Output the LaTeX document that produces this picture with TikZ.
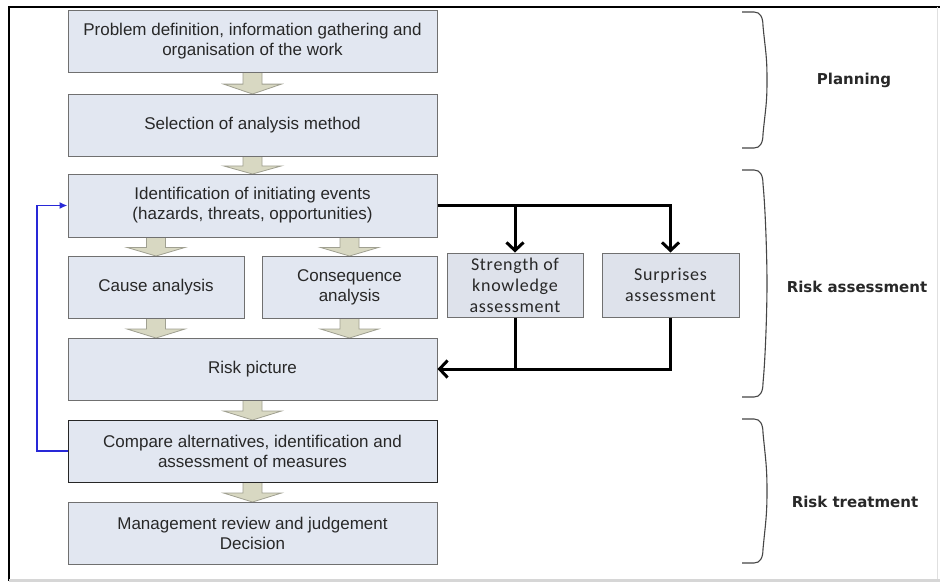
\documentclass[tikz,border=0pt]{standalone}
\usepackage{fontspec}
\setmainfont{Liberation Sans}
\newfontfamily\phasefont{DejaVu Sans}
\newfontfamily\calfont[LetterSpace=4]{Carlito}
\usetikzlibrary{arrows.meta}

\definecolor{boxfill}{RGB}{226,231,241}
\definecolor{boxedge}{RGB}{112,112,112}
\definecolor{sidefill}{RGB}{222,226,235}
\definecolor{blkfill}{RGB}{216,216,194}
\definecolor{blkedge}{RGB}{160,160,145}
\definecolor{txt}{RGB}{40,40,40}
\definecolor{loopblue}{RGB}{40,40,215}
\definecolor{bracegray}{RGB}{70,70,70}

\tikzset{
  stage/.style={draw=boxedge, fill=boxfill, line width=1pt,
    minimum width=369pt, minimum height=62pt, inner sep=0pt,
    align=center, text=txt, font=\fontsize{17}{20}\selectfont},
  halfstage/.style={stage, minimum width=176pt},
  sidebox/.style={draw=boxedge, fill=sidefill, line width=1pt,
    minimum width=136pt, minimum height=64pt, inner sep=0pt,
    align=center, text=txt, font=\calfont\fontsize{18}{21}\selectfont},
  phase/.style={text=txt, font=\phasefont\bfseries\fontsize{15}{18}\selectfont},
  flow/.style={line width=3pt, -{Straight Barb[length=8pt,width=17pt]}},
  flowplain/.style={line width=3pt},
  loop/.style={draw=loopblue, line width=1.6pt, -{Latex[length=8pt,width=7pt]}},
  bracestyle/.style={draw=bracegray, line width=1.1pt},
  blk/.pic={
    \path[fill=blkfill, draw=blkedge, line width=0.8pt]
      (-9.5,0) -- (-9.5,0.55*#1) -- (-29,0.55*#1) -- (0,#1)
      -- (29,0.55*#1) -- (9.5,0.55*#1) -- (9.5,0) -- cycle;
  }
}

\begin{document}
\begin{tikzpicture}[x=1pt,y=-1pt]
  \useasboundingbox (0,0) rectangle (940,587);
  \fill[white] (0,0) rectangle (940,587);

  % frame around the figure
  \draw[line width=2pt, black] (940,6.5) -- (8.5,6.5) -- (8.5,581);
  \draw[line width=3pt, black!16] (8.5,580) -- (940,580);
  \draw[line width=1pt, black!12] (937,6.5) -- (937,579);

  % block arrows between the stages
  \pic at (252.5,72) {blk=22};
  \pic at (252.5,156) {blk=18};
  \pic at (156,237) {blk=19};
  \pic at (349.5,237) {blk=19};
  \pic at (156,318) {blk=20};
  \pic at (349.5,318) {blk=20};
  \pic at (252.5,400) {blk=20};
  \pic at (252.5,482) {blk=20};

  % stages
  \node[stage] (define) at (252.5,41) {Problem definition, information gathering and\\organisation of the work};
  \node[stage] (method) at (252.5,125) {Selection of analysis method};
  \node[stage, minimum height=63pt] (events) at (252.5,205.5) {Identification of initiating events\\(hazards, threats, opportunities)};
  \node[halfstage] (cause) at (156,287) {Cause analysis};
  \node[halfstage, minimum width=175pt] (conseq) at (349.5,287) {Consequence\\analysis};
  \node[stage] (risk) at (252.5,369) {Risk picture};
  \node[stage, draw=black!85] (compare) at (252.5,451) {Compare alternatives, identification and\\assessment of measures};
  \node[stage] (review) at (252.5,533) {Management review and judgement\\Decision};

  \node[sidebox] (strength) at (515,285) {Strength of\\knowledge\\assessment};
  \node[sidebox, minimum width=137pt] (surprise) at (670.5,285) {Surprises\\assessment};

  % connectors to and from the side assessments
  \draw[flow] (events.east) -| (surprise.north);
  \draw[flow] (strength.north |- events.east) -- (strength.north);
  \draw[flowplain] (strength.south) -- (strength.south |- risk.east);
  \draw[flow] (surprise.south) |- (risk.east);

  % feedback loop
  \coordinate (loopcorner) at (37,451);
  \draw[loop] (compare.west) -- (compare.west -| loopcorner) |- (events.west);

  % phase brackets
  \foreach \t/\b in {12/148,170/397,419/563}{
    \pgfmathsetmacro\m{(\t+\b)/2}
    \draw[bracestyle] (742,\t) -- (754,\t)
      .. controls (760,\t) and (763,\t+5) .. (763,\t+14)
      .. controls (765.5,\t+40) and (767,\m-25) .. (767,\m)
      .. controls (767,\m+25) and (765.5,\b-40) .. (763,\b-14)
      .. controls (763,\b-5) and (760,\b) .. (754,\b) -- (742,\b);
  }

  \node[phase] (planning) at (854,80) {Planning};
  \node[phase] (assess) at (857,287) {Risk assessment};
  \node[phase] (treat) at (855,502) {Risk treatment};
\end{tikzpicture}
\end{document}
